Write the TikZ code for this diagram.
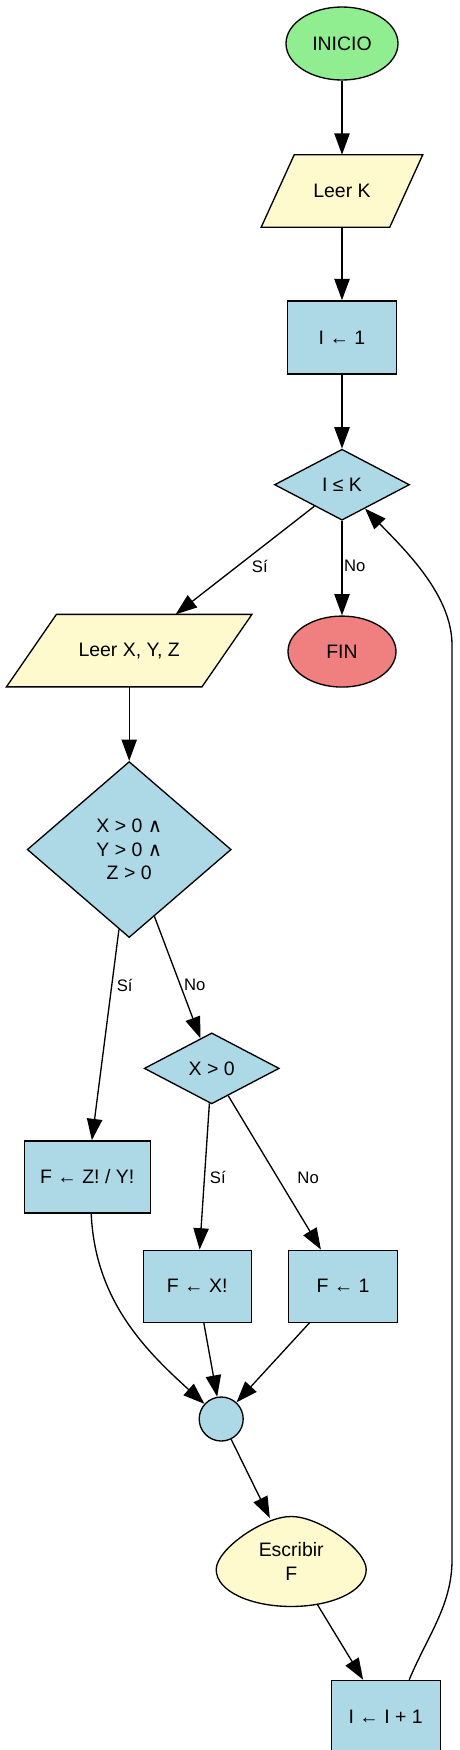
\documentclass[tikz,border=0pt]{standalone}
\usepackage{fontspec}
\setmainfont{Liberation Sans}
\newfontfamily\symbfont{DejaVu Sans}
\usepackage{xcolor}
\usepackage{tikz}
\usetikzlibrary{shapes,arrows.meta,positioning,calc,backgrounds}

\definecolor{startgreen}{HTML}{90EE90}
\definecolor{endred}{HTML}{F08080}
\definecolor{procblue}{HTML}{ADD8E6}
\definecolor{iolemon}{HTML}{FFFACD}

\newcommand{\yand}{{\symbfont ∧}}

\begin{document}
\begin{tikzpicture}[
    x=0.75pt, y=-0.75pt,
    node distance=55.5pt,
    every node/.style={font=\fontsize{14.6pt}{17.5pt}\selectfont, inner sep=0pt},
    base/.style={draw, line width=1pt},
    terminal/.style={base, ellipse, minimum width=84pt, minimum height=54.75pt},
    process/.style={base, rectangle, fill=procblue, minimum width=81.75pt, minimum height=54.75pt},
    decision/.style={base, diamond, fill=procblue, aspect=1.9, minimum width=101.25pt, minimum height=53.25pt},
    io/.style={rectangle, minimum height=54pt},
    edgelbl/.style={font=\fontsize{12.5pt}{15pt}\selectfont, inner sep=1pt},
    arrow/.style={->, line width=1pt, >={Triangle[length=16pt,width=11.5pt]}}
]
    \useasboundingbox (0,0) rectangle (460,1750);

    % Nodes
    \node[terminal, fill=startgreen] (inicio) at (342,43.5) {INICIO};
    \node[io, minimum width=96pt, below=of inicio] (leerk) {Leer K};
    \node[process, below=54.75pt of leerk] (iuno) {I ← 1};
    \node[decision, below=of iuno] (cond) {I ≤ K};
    \node[terminal, fill=endred, minimum width=81pt, minimum height=53.25pt, below=70.9pt of cond] (fin) {FIN};
    \node[io, minimum width=146.25pt, below=70.1pt of cond, xshift=-159.6pt] (leerxyz) {Leer X, Y, Z};
    \node[decision, aspect=1.16, minimum width=153pt, minimum height=132pt, align=center, below=of leerxyz] (todos) {X > 0 \yand\\Y > 0 \yand\\Z > 0};
    \node[decision, below=70.5pt of todos, xshift=61.9pt] (xpos) {X > 0};
    \node[process, minimum width=94.5pt, minimum height=54pt, below=151.5pt of todos, xshift=-31.5pt] (fzy) {F ← Z! / Y!};
    \node[process, minimum width=81pt, minimum height=54pt, below=108.75pt of xpos, xshift=-10.9pt] (fx) {F ← X!};
    \node[process, minimum height=54pt, right=27pt of fx] (fone) {F ← 1};
    \node[base, circle, fill=procblue, minimum size=33pt, below=55.1pt of fx, xshift=18pt] (junta) {};
    \node[ellipse, minimum width=112.5pt, minimum height=67.5pt, align=center, below=55.9pt of junta, xshift=52.5pt] (escribir) {Escribir\\F};
    \node[process, below=54.75pt of escribir, xshift=70.9pt] (incr) {I ← I + 1};

    % Input/output outlines behind their text
    \begin{scope}[on background layer]
        \filldraw[base, fill=iolemon] ([xshift=-12.4pt]leerk.south west) -- ([xshift=-12.4pt]leerk.south east)
            -- ([xshift=12.4pt]leerk.north east) -- ([xshift=12.4pt]leerk.north west) -- cycle;
        \filldraw[base, fill=iolemon] ([xshift=-18.75pt]leerxyz.south west) -- ([xshift=-18.75pt]leerxyz.south east)
            -- ([xshift=18.75pt]leerxyz.north east) -- ([xshift=18.75pt]leerxyz.north west) -- cycle;
    \end{scope}
    \begin{scope}[on background layer, shift={(escribir.center)}]
        \filldraw[base, fill=iolemon] (0,-45) .. controls (-28,-45) and (-75,-12) .. (-75,8)
            .. controls (-75,30) and (-40,45) .. (0,45)
            .. controls (40,45) and (75,30) .. (75,8)
            .. controls (75,-12) and (28,-45) .. cycle;
    \end{scope}

    % Arrows
    \draw[arrow] (inicio) -- (leerk);
    \draw[arrow] (leerk) -- (iuno);
    \draw[arrow] (iuno) -- (cond);
    \draw[arrow] (cond) -- node[edgelbl, pos=.556, anchor=west, xshift=9.5pt] {Sí} (leerxyz);
    \draw[arrow] (cond) -- node[edgelbl, pos=.48, anchor=west] {No} (fin);
    \draw[arrow] (leerxyz) -- (todos);
    \draw[arrow] (todos) -- node[edgelbl, pos=.265, anchor=west, xshift=2.3pt] {Sí} (fzy);
    \draw[arrow] (todos) -- node[edgelbl, pos=.564, anchor=west, xshift=1.3pt] {No} (xpos);
    \draw[arrow] (xpos) -- node[edgelbl, pos=.508, anchor=west, xshift=2.6pt] {Sí} (fx);
    \draw[arrow] (xpos) -- node[edgelbl, pos=.531, anchor=west, xshift=13.5pt] {No} (fone);
    \draw[arrow] ([xshift=3pt]fzy.south) .. controls (95,1300) and (145,1350) .. (junta);
    \draw[arrow] (fx) -- (junta);
    \draw[arrow] (fone) -- (junta);
    \draw[arrow] (junta) -- (escribir);
    \draw[arrow] (escribir) -- (incr);
    \draw[arrow] ([xshift=17.6pt]incr.north) .. controls (428,1635) and (452,1605) .. (452,1560)
        -- (452,645) .. controls (452,595) and (405,550) .. (cond);
\end{tikzpicture}
\end{document}
